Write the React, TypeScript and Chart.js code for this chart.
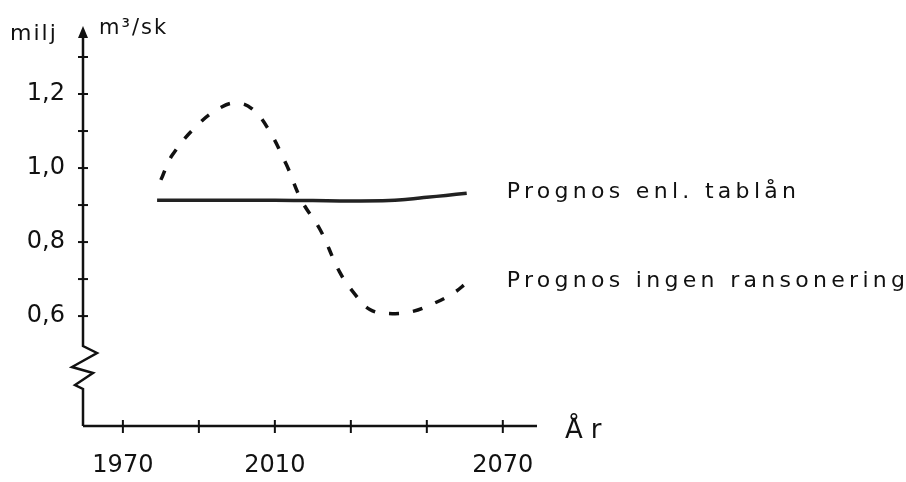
import React, { useEffect, useRef } from "react";
import { Chart, registerables } from "chart.js";

Chart.register(...registerables);

// Data
const solidYears = [1979, 1990, 2000, 2010, 2020, 2030, 2040, 2045, 2050, 2055, 2060.5];
const solidValues = [0.913, 0.913, 0.913, 0.913, 0.912, 0.911, 0.912, 0.916, 0.921, 0.926, 0.932];
const dashedYears = [1980, 1983, 1990, 1996, 2000, 2004, 2008, 2013, 2017, 2022, 2027, 2031, 2035, 2040, 2046, 2052, 2057, 2060.5];
const dashedValues = [0.968, 1.035, 1.12, 1.165, 1.176, 1.16, 1.11, 1.01, 0.913, 0.832, 0.72, 0.66, 0.618, 0.607, 0.612, 0.635, 0.662, 0.69];
const seriesLabels = ["Prognos enl. tablån", "Prognos ingen ransonering"];
const xTickValues = [1970, 1990, 2010, 2030, 2050, 2070];
const xTickLabels = ["1970", "", "2010", "", "", "2070"];
const yTickValues = [0.6, 0.7, 0.8, 0.9, 1.0, 1.1, 1.2, 1.3];
const yTickLabels = ["0,6", "", "0,8", "", "1,0", "", "1,2", ""];
const unitLeft = "milj";
const unitRight = "m³/sk";
const xTitle = "År";

const FONT = "'DejaVu Sans', sans-serif";

const decorPlugin = {
  id: "decor",
  afterDatasetsDraw(chart: any) {
    const ctx = chart.ctx;
    ctx.save();
    ctx.fillStyle = "#111";
    ctx.font = `22px ${FONT}`;
    (ctx as any).letterSpacing = "4.3px";
    ctx.textBaseline = "middle";
    ctx.textAlign = "left";
    chart.data.datasets.forEach((ds: any, i: number) => {
      const meta = chart.getDatasetMeta(i);
      const last = meta.data[meta.data.length - 1];
      if (last) ctx.fillText(ds.label, last.x + 40, last.y - 1);
    });
    ctx.restore();
  },
  afterDraw(chart: any) {
    const ctx = chart.ctx;
    const { left, right, top, bottom } = chart.chartArea;
    const xs = chart.scales.x;
    const ys = chart.scales.y;
    ctx.save();
    ctx.strokeStyle = "#111";
    ctx.fillStyle = "#111";
    ctx.lineWidth = 2.5;
    ctx.lineJoin = "miter";
    // y axis with zigzag break
    ctx.beginPath();
    ctx.moveTo(left, bottom);
    ctx.lineTo(left, bottom - 37);
    ctx.lineTo(left - 8, bottom - 41);
    ctx.lineTo(left + 10, bottom - 53);
    ctx.lineTo(left - 11, bottom - 59);
    ctx.lineTo(left + 14, bottom - 73);
    ctx.lineTo(left, bottom - 80);
    ctx.lineTo(left, top + 4);
    ctx.stroke();
    // arrow
    ctx.beginPath();
    ctx.moveTo(left, top - 4);
    ctx.lineTo(left - 5, top + 8);
    ctx.lineTo(left + 5, top + 8);
    ctx.closePath();
    ctx.fill();
    // x axis
    ctx.beginPath();
    ctx.moveTo(left, bottom);
    ctx.lineTo(right, bottom);
    ctx.stroke();
    // ticks
    ctx.lineWidth = 2;
    yTickValues.forEach((v) => {
      const py = ys.getPixelForValue(v);
      ctx.beginPath();
      ctx.moveTo(left - 5, py);
      ctx.lineTo(left + 5, py);
      ctx.stroke();
    });
    xTickValues.forEach((v) => {
      const px = xs.getPixelForValue(v);
      ctx.beginPath();
      ctx.moveTo(px, bottom - 6);
      ctx.lineTo(px, bottom + 7);
      ctx.stroke();
    });
    // unit labels
    ctx.font = `22px ${FONT}`;
    ctx.textBaseline = "alphabetic";
    ctx.textAlign = "left";
    (ctx as any).letterSpacing = "2px";
    ctx.fillText(unitLeft, 10, 40);
    ctx.font = `21px ${FONT}`;
    ctx.fillText(unitRight, left + 16, 34);
    // x title
    ctx.font = `26px ${FONT}`;
    (ctx as any).letterSpacing = "8px";
    ctx.fillText(xTitle, right + 28, bottom + 12);
    ctx.restore();
  },
};

export default function App() {
  const ref = useRef<HTMLCanvasElement>(null);
  useEffect(() => {
    if (!ref.current) return;
    const chart = new Chart(ref.current, {
      type: "line",
      data: {
        datasets: [
          {
            label: seriesLabels[0],
            data: solidYears.map((x, i) => ({ x, y: solidValues[i] })),
            borderColor: "#222",
            borderWidth: 3.5,
            pointRadius: 0,
            tension: 0.4,
          },
          {
            label: seriesLabels[1],
            data: dashedYears.map((x, i) => ({ x, y: dashedValues[i] })),
            borderColor: "#111",
            borderWidth: 3.5,
            borderDash: [10, 14],
            pointRadius: 0,
            tension: 0.4,
          },
        ],
      },
      options: {
        animation: false,
        responsive: true,
        maintainAspectRatio: false,
        layout: { padding: { top: 30, right: 369, bottom: 0, left: 0 } },
        plugins: { legend: { display: false }, tooltip: { enabled: false } },
        scales: {
          x: {
            type: "linear",
            min: 1959.5,
            max: 2079,
            grid: { display: false },
            border: { display: false },
            afterFit: (s: any) => {
              s.height = 56;
            },
            afterBuildTicks: (s: any) => {
              s.ticks = xTickValues.map((value) => ({ value }));
            },
            ticks: {
              autoSkip: false,
              maxRotation: 0,
              padding: 17,
              color: "#111",
              font: { family: FONT, size: 24 },
              callback: (v: any) => xTickLabels[xTickValues.indexOf(Number(v))] ?? "",
            },
          },
          y: {
            type: "linear",
            min: 0.303,
            max: 1.373,
            grid: { display: false },
            border: { display: false },
            afterFit: (s: any) => {
              s.width = 83;
            },
            afterBuildTicks: (s: any) => {
              s.ticks = yTickValues.map((value) => ({ value }));
            },
            ticks: {
              autoSkip: false,
              padding: 10,
              color: "#111",
              font: { family: FONT, size: 24 },
              callback: (v: any) => {
                const idx = yTickValues.findIndex((t) => Math.abs(t - Number(v)) < 1e-6);
                return idx >= 0 ? yTickLabels[idx] : "";
              },
            },
          },
        },
      },
      plugins: [decorPlugin],
    });
    return () => chart.destroy();
  }, []);
  return (
    <div style={{ position: "fixed", left: 0, top: 0, width: 906, height: 482, background: "#fff" }}>
      <canvas ref={ref} />
    </div>
  );
}
